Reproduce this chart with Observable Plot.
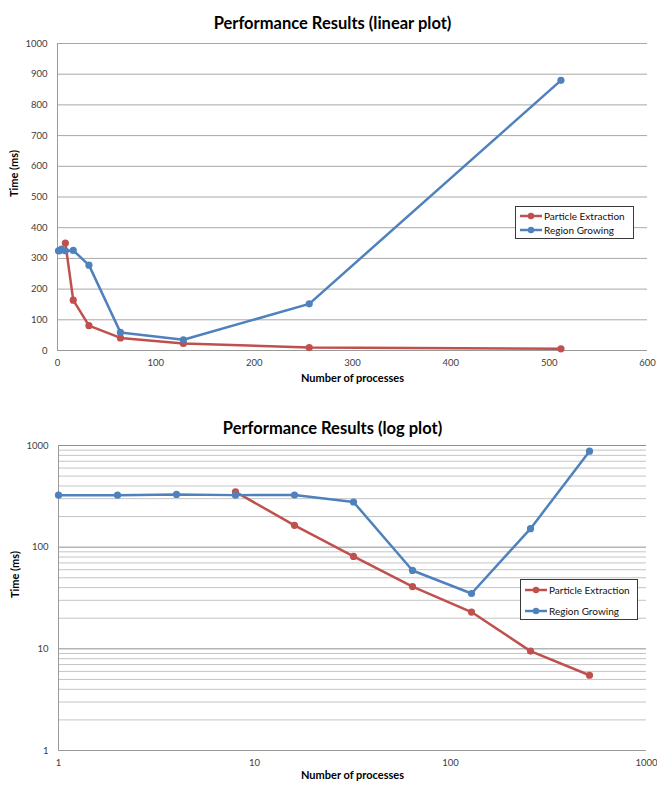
<!DOCTYPE html>
<html>
<head>
<meta charset="utf-8">
<script src="https://cdn.jsdelivr.net/npm/d3@7"></script>
<script src="https://cdn.jsdelivr.net/npm/@observablehq/plot@0.6"></script>
<style>
  html, body { margin: 0; padding: 0; background: #fff; }
  #wrap { position: relative; width: 657px; height: 787px; font-family: Lato, "Open Sans", sans-serif; }
  #wrap svg { display: block; }
  .legend { position: absolute; background: #fff; border: 1px solid #3a3a3a; font-family: Lato, sans-serif; font-size: 10px; color: #111; box-sizing: border-box; }
  .legend .item { position: absolute; left: 3px; display: flex; align-items: center; white-space: nowrap; }
  .legend svg { display: inline-block; margin-right: 1px; }
</style>
</head>
<body>
<div id="wrap"></div>
<script>
// ---- data ----
const procsParticle = [8, 16, 32, 64, 128, 256, 512];
const timeParticle  = [350, 164, 81, 41, 23, 9.5, 5.5];
const procsRegion   = [1, 2, 4, 8, 16, 32, 64, 128, 256, 512];
const timeRegion    = [325, 325, 330, 325, 326, 278, 59, 35, 152, 880];
const seriesNames   = ["Particle Extraction", "Region Growing"];
const seriesColors  = ["#C0504D", "#4F81BD"];
const linearXTicks  = [0, 100, 200, 300, 400, 500, 600];
const linearYTicks  = [0, 100, 200, 300, 400, 500, 600, 700, 800, 900, 1000];
const logTicks      = [1, 10, 100, 1000];
const titles        = ["Performance Results (linear plot)", "Performance Results (log plot)"];
const xLabel        = "Number of processes";
const yLabel        = "Time (ms)";

const particle = procsParticle.map((p, i) => ({procs: p, time: timeParticle[i]}));
const region   = procsRegion.map((p, i) => ({procs: p, time: timeRegion[i]}));
const minorLog = [];
for (const d of [1, 10, 100]) for (let k = 2; k <= 9; k++) minorLog.push(d * k);

const FONT = "Lato, 'Open Sans', sans-serif";
const TICK_COLOR = "#404040";
const fmt = d3.format("d");

function seriesMarks() {
  return [
    Plot.line(particle, {x: "procs", y: "time", stroke: seriesColors[0], strokeWidth: 2.5}),
    Plot.dot(particle, {x: "procs", y: "time", fill: seriesColors[0], r: 3.6}),
    Plot.line(region, {x: "procs", y: "time", stroke: seriesColors[1], strokeWidth: 2.5}),
    Plot.dot(region, {x: "procs", y: "time", fill: seriesColors[1], r: 3.6})
  ];
}

function labelMarks(title, titleDy, xDy) {
  return [
    Plot.text([title], {frameAnchor: "top", dy: titleDy, dx: -20, fontSize: 16.5, fontWeight: "bold", fill: "#000", fontFamily: FONT}),
    Plot.text([xLabel], {frameAnchor: "bottom", dy: xDy, fontSize: 11, fontWeight: "bold", fill: "#000", fontFamily: FONT}),
    Plot.text([yLabel], {frameAnchor: "left", dx: -43, rotate: -90, fontSize: 11, fontWeight: "bold", fill: "#000", fontFamily: FONT})
  ];
}

// ---- linear chart ----
const chart1 = Plot.plot({
  width: 657, height: 395,
  marginTop: 43, marginBottom: 45, marginLeft: 57, marginRight: 10,
  style: {fontFamily: FONT, background: "#fff"},
  x: {domain: [0, 600]},
  y: {domain: [0, 1000]},
  marks: [
    Plot.gridY(linearYTicks, {stroke: "#a8a8a8", strokeOpacity: 1}),
    Plot.ruleX([0], {stroke: "#9a9a9a"}),
    Plot.ruleY([0], {stroke: "#9a9a9a"}),
    Plot.axisX({ticks: linearXTicks, tickFormat: fmt, tickSize: 0, tickPadding: 9, fontSize: 9.5, color: TICK_COLOR, label: null}),
    Plot.axisY({ticks: linearYTicks, tickFormat: fmt, tickSize: 0, tickPadding: 10, fontSize: 9.5, color: TICK_COLOR, label: null}),
    ...seriesMarks(),
    ...labelMarks(titles[0], -26, 31)
  ]
});

// ---- log chart ----
const chart2 = Plot.plot({
  width: 657, height: 392,
  marginTop: 50, marginBottom: 37, marginLeft: 58, marginRight: 11,
  style: {fontFamily: FONT, background: "#fff"},
  x: {type: "log", domain: [1, 1000]},
  y: {type: "log", domain: [1, 1000]},
  marks: [
    Plot.gridY(minorLog, {stroke: "#c4c4c4", strokeOpacity: 1}),
    Plot.gridY(logTicks, {stroke: "#8f8f8f", strokeOpacity: 1}),
    Plot.ruleX([1], {stroke: "#9a9a9a"}),
    Plot.ruleY([1], {stroke: "#9a9a9a"}),
    Plot.axisX({ticks: logTicks, tickFormat: fmt, tickSize: 0, tickPadding: 9, fontSize: 9.5, color: TICK_COLOR, label: null}),
    Plot.axisY({ticks: logTicks, tickFormat: fmt, tickSize: 0, tickPadding: 10, fontSize: 9.5, color: TICK_COLOR, label: null}),
    ...seriesMarks(),
    ...labelMarks(titles[1], -23, 28)
  ]
});

const wrap = document.getElementById("wrap");
wrap.appendChild(chart1);
wrap.appendChild(chart2);

// ---- legends (HTML overlays) ----
function legend(left, top, w, h, rowYs) {
  const box = document.createElement("div");
  box.className = "legend";
  Object.assign(box.style, {left: left + "px", top: top + "px", width: w + "px", height: h + "px"});
  seriesNames.forEach((name, i) => {
    const item = document.createElement("div");
    item.className = "item";
    item.style.top = (rowYs[i] - 7) + "px";
    item.innerHTML = `<svg width="24" height="14"><line x1="1" y1="7" x2="23" y2="7" stroke="${seriesColors[i]}" stroke-width="2.5"/><circle cx="12" cy="7" r="3.2" fill="${seriesColors[i]}"/></svg><span>${name}</span>`;
    box.appendChild(item);
  });
  wrap.appendChild(box);
}
legend(515, 206, 119, 33, [9, 23]);
legend(520, 579, 118, 41, [10, 31]);
</script>
</body>
</html>
